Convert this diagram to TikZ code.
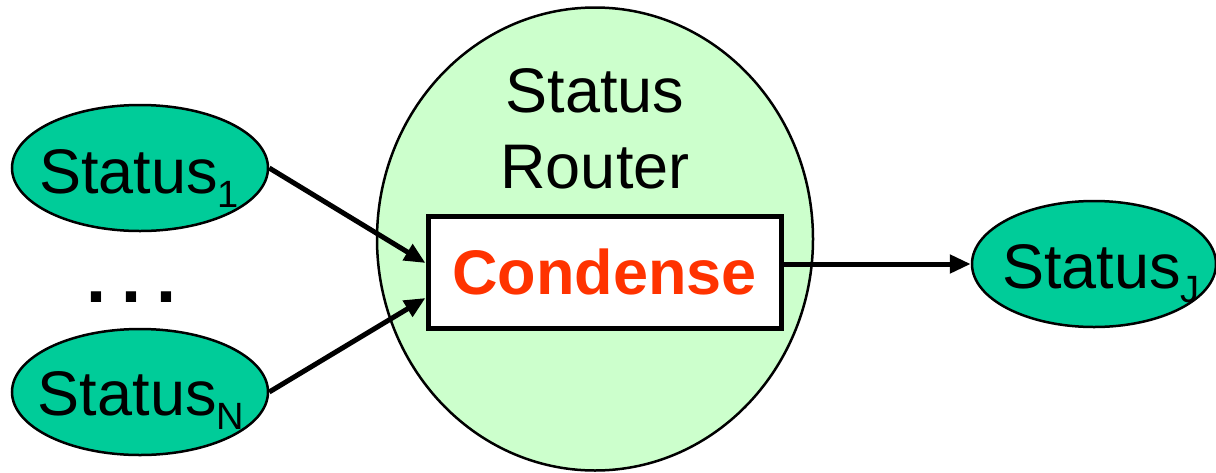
\documentclass[tikz,border=0pt]{standalone}
\usepackage{fontspec}
\setmainfont{Liberation Sans}
\usetikzlibrary{shapes.geometric,arrows.meta}
\definecolor{statfill}{RGB}{0,204,153}
\definecolor{routerfill}{RGB}{204,255,204}
\definecolor{condred}{RGB}{255,51,0}
\newcommand{\bigtext}{\fontsize{63}{76}\selectfont}
\newcommand{\subidx}[1]{\raisebox{-14pt}{\fontsize{38}{38}\selectfont #1}}
\tikzset{
  statnode/.style={ellipse, draw=black, line width=2.5pt, fill=statfill,
    inner sep=0pt, minimum width=#1, minimum height=126pt},
  statnode/.default=256pt,
  stattext/.style={font=\bigtext, anchor=base, inner sep=0pt},
  router/.style={ellipse, draw=black, line width=2.5pt, fill=routerfill,
    inner sep=0pt, minimum width=436pt, minimum height=463pt},
  condbox/.style={rectangle, draw=black, line width=5pt, fill=white,
    inner sep=0pt, minimum width=353pt, minimum height=112pt,
    font=\bigtext\bfseries, text=condred, text height=45pt, text depth=0pt},
  flow/.style={line width=5pt, -{Triangle[length=21pt,width=18pt]}}
}
\begin{document}
\begin{tikzpicture}[x=1pt,y=-1pt]
  \useasboundingbox (0,0) rectangle (1216,472);
  % router body and its title
  \node[router] (rt) at (595,239) {};
  \node[font=\bigtext, align=center, anchor=base] (rtitle) at (595,188) {Status\\Router};
  % condense stage
  \node[condbox] (cond) at (604.5,272) {Condense};
  % input and output status nodes
  \node[statnode] (s1) at (140,168) {};
  \node[stattext] (s1t) at (139,193) {Status\subidx{1}};
  \node[statnode] (sn) at (140,392) {};
  \node[stattext] (snt) at (141,415) {Status\subidx{N}};
  \node[statnode=244pt] (sj) at (1094,264) {};
  \node[stattext] (sjt) at (1101,288) {Status\subidx{J}};
  \node[font=\bfseries\fontsize{72}{72}\selectfont, anchor=base] (dots) at (132,302) {.\hspace{15pt}.\hspace{15pt}.};
  % connectors
  \draw[flow] (s1.east) -- ([yshift=9pt]cond.west);
  \draw[flow] (sn.east) -- ([yshift=-26pt]cond.west);
  \draw[flow] ([yshift=8pt]cond.east) -- (sj.west);
\end{tikzpicture}
\end{document}
